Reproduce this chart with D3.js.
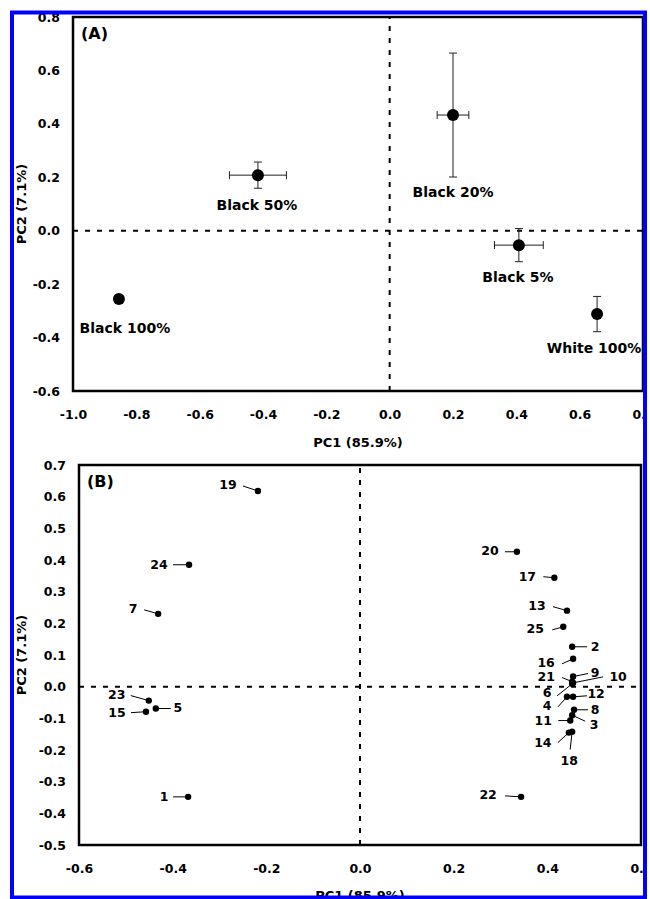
<!DOCTYPE html>
<html>
<head>
<meta charset="utf-8">
<script src="https://cdn.jsdelivr.net/npm/d3@7"></script>
<style>
  body { margin: 0; background: #fff; }
  svg text { font-family: "DejaVu Sans", sans-serif; font-weight: bold; fill: #000; }
  .tick text { font-size: 12.5px; }
  .pt-label { font-size: 12.5px; }
  .grp-label { font-size: 14px; }
  .ax-title { font-size: 13px; }
  .panel-tag { font-size: 16px; }
</style>
</head>
<body>
<svg id="chart" width="650" height="899"></svg>
<script>
// ---- panel A: group means with error bars
const groupsA = ["Black 100%", "Black 50%", "Black 20%", "Black 5%", "White 100%"];
const pc1A = [-0.855, -0.416, 0.200, 0.408, 0.655];
const pc2A = [-0.256, 0.208, 0.433, -0.054, -0.312];
const pc1ErrA = [0.012, 0.090, 0.050, 0.077, 0.004];
const pc2ErrA = [0.008, 0.049, 0.232, 0.062, 0.066];
const xTicksA = [-1.0, -0.8, -0.6, -0.4, -0.2, 0.0, 0.2, 0.4, 0.6, 0.8];
const yTicksA = [-0.6, -0.4, -0.2, 0.0, 0.2, 0.4, 0.6, 0.8];

// ---- panel B: individual samples
const samplesB = ["1", "2", "3", "4", "5", "6", "7", "8", "9", "10", "11", "12", "13",
  "14", "15", "16", "17", "18", "19", "20", "21", "22", "23", "24", "25"];
const pc1B = [-0.367, 0.453, 0.453, 0.442, -0.436, 0.453, -0.431, 0.457, 0.455, 0.455, 0.449, 0.455, 0.442,
  0.446, -0.457, 0.455, 0.415, 0.453, -0.218, 0.335, 0.453, 0.344, -0.451, -0.365, 0.434];
const pc2B = [-0.348, 0.126, -0.090, -0.032, -0.069, 0.009, 0.230, -0.073, 0.032, 0.012, -0.107, -0.032, 0.240,
  -0.145, -0.079, 0.088, 0.344, -0.142, 0.618, 0.426, 0.016, -0.348, -0.044, 0.385, 0.189];
const xTicksB = [-0.6, -0.4, -0.2, 0.0, 0.2, 0.4, 0.6];
const yTicksB = [-0.5, -0.4, -0.3, -0.2, -0.1, 0.0, 0.1, 0.2, 0.3, 0.4, 0.5, 0.6, 0.7];

// label placement (pixel offsets from the marker)
const labelOffA = [[6, 34], [-1, 35], [0, 82], [-1, 37], [-3, 39]];
const labelOffB = [[-24, 0], [23, 0], [22, 9], [-20, 9], [22, -1], [-25, 9], [-25, -5], [21, 0], [22, -4],
  [45, -6], [-27, 0], [23, -3], [-30, -5], [-26, 10], [-29, 1], [-27, 4], [-27, -1], [-3, 29], [-30, -6],
  [-27, -1], [-26, -5], [-33, -2], [-32, -6], [-30, 0], [-28, 2]];
const leaderOffB = [[-15, 0], [15, 0], [13, 6], [-9, 10], [15, 0], [-15, 12], [-14, -4], [14, 0], [15, -3],
  [30, -6], [-12, 0], [14, -1], [-14, -4], [-11, 10], [-15, 1], [-11, 5], [-11, -1], [-2, 18], [-15, -5],
  [-12, 0], [-10, -4], [-16, -1], [-18, -5], [-16, 0], [-11, 3]];

const svg = d3.select("#chart");
svg.append("rect").attr("width", 650).attr("height", 899).attr("fill", "#fff");

svg.append("clipPath").attr("id", "inner")
  .append("rect").attr("x", 12).attr("y", 12).attr("width", 633).attr("height", 885);

const root = svg.append("g").attr("clip-path", "url(#inner)");
const fmt = d => d.toFixed(1);

function drawFrame(x, y, xTicks, yTicks, tag, titleY) {
  const [x0, x1] = x.range();
  const [y0, y1] = y.range();

  root.append("g")
    .attr("transform", `translate(0,${y0})`)
    .call(d3.axisBottom(x).tickValues(xTicks).tickFormat(fmt).tickSize(0).tickPadding(19))
    .call(g => g.select(".domain").remove())
    .attr("font-size", null).attr("font-family", null);

  root.append("g")
    .attr("transform", `translate(${x0},0)`)
    .call(d3.axisLeft(y).tickValues(yTicks).tickFormat(fmt).tickSize(0).tickPadding(13))
    .call(g => g.select(".domain").remove())
    .attr("font-size", null).attr("font-family", null);

  // zero lines
  root.append("line")
    .attr("x1", x(0)).attr("x2", x(0)).attr("y1", y0).attr("y2", y1)
    .attr("stroke", "#000").attr("stroke-width", 2).attr("stroke-dasharray", "5,7");
  root.append("line")
    .attr("x1", x0).attr("x2", x1).attr("y1", y(0)).attr("y2", y(0))
    .attr("stroke", "#000").attr("stroke-width", 2).attr("stroke-dasharray", "5,7");

  root.append("rect")
    .attr("x", x0).attr("y", y1).attr("width", x1 - x0).attr("height", y0 - y1)
    .attr("fill", "none").attr("stroke", "#000").attr("stroke-width", 2.5);

  root.append("text").attr("class", "panel-tag")
    .attr("x", x0 + 8).attr("y", y1 + 22).text(tag);

  root.append("text").attr("class", "ax-title")
    .attr("x", (x0 + x1) / 2).attr("y", titleY)
    .attr("text-anchor", "middle").text("PC1 (85.9%)");

  root.append("text").attr("class", "ax-title")
    .attr("transform", `translate(26,${(y0 + y1) / 2}) rotate(-90)`)
    .attr("text-anchor", "middle").text("PC2 (7.1%)");
}

// ---- panel A
const xA = d3.scaleLinear().domain([-1.0, 0.8]).range([73, 643]);
const yA = d3.scaleLinear().domain([-0.6, 0.8]).range([391, 17]);
drawFrame(xA, yA, xTicksA, yTicksA, "(A)", 447);

const dataA = groupsA.map((g, i) => ({
  g, x: pc1A[i], y: pc2A[i], ex: pc1ErrA[i], ey: pc2ErrA[i], off: labelOffA[i]
}));

const errA = root.append("g").attr("stroke", "#222").attr("stroke-width", 1);
const cap = 4;
dataA.forEach(d => {
  const cx = xA(d.x), cy = yA(d.y);
  const xl = xA(d.x - d.ex), xr = xA(d.x + d.ex);
  const yt = yA(d.y + d.ey), yb = yA(d.y - d.ey);
  errA.append("line").attr("x1", xl).attr("x2", xr).attr("y1", cy).attr("y2", cy);
  errA.append("line").attr("x1", xl).attr("x2", xl).attr("y1", cy - cap).attr("y2", cy + cap);
  errA.append("line").attr("x1", xr).attr("x2", xr).attr("y1", cy - cap).attr("y2", cy + cap);
  errA.append("line").attr("x1", cx).attr("x2", cx).attr("y1", yt).attr("y2", yb);
  errA.append("line").attr("x1", cx - cap).attr("x2", cx + cap).attr("y1", yt).attr("y2", yt);
  errA.append("line").attr("x1", cx - cap).attr("x2", cx + cap).attr("y1", yb).attr("y2", yb);
});

root.selectAll(".dotA")
  .data(dataA)
  .enter()
  .append("circle")
  .attr("class", "dotA")
  .attr("cx", d => xA(d.x))
  .attr("cy", d => yA(d.y))
  .attr("r", 6)
  .attr("fill", "#000");

root.selectAll(".grp-label")
  .data(dataA)
  .enter()
  .append("text")
  .attr("class", "grp-label")
  .attr("x", d => xA(d.x) + d.off[0])
  .attr("y", d => yA(d.y) + d.off[1])
  .attr("text-anchor", "middle")
  .text(d => d.g);

// ---- panel B
const xB = d3.scaleLinear().domain([-0.6, 0.6]).range([79, 641]);
const yB = d3.scaleLinear().domain([-0.5, 0.7]).range([845, 465]);
drawFrame(xB, yB, xTicksB, yTicksB, "(B)", 900);

const dataB = samplesB.map((s, i) => ({
  s, x: pc1B[i], y: pc2B[i], off: labelOffB[i], lead: leaderOffB[i]
}));

root.selectAll(".leader")
  .data(dataB)
  .enter()
  .append("line")
  .attr("class", "leader")
  .attr("x1", d => xB(d.x) + d.lead[0])
  .attr("y1", d => yB(d.y) + d.lead[1])
  .attr("x2", d => xB(d.x))
  .attr("y2", d => yB(d.y))
  .attr("stroke", "#000")
  .attr("stroke-width", 1);

root.selectAll(".dotB")
  .data(dataB)
  .enter()
  .append("circle")
  .attr("class", "dotB")
  .attr("cx", d => xB(d.x))
  .attr("cy", d => yB(d.y))
  .attr("r", 3.2)
  .attr("fill", "#000");

root.selectAll(".pt-label")
  .data(dataB)
  .enter()
  .append("text")
  .attr("class", "pt-label")
  .attr("x", d => xB(d.x) + d.off[0])
  .attr("y", d => yB(d.y) + d.off[1])
  .attr("dy", "0.36em")
  .attr("text-anchor", "middle")
  .text(d => d.s);

// blue outer border
svg.append("rect")
  .attr("x", 12).attr("y", 12.5).attr("width", 633).attr("height", 885)
  .attr("fill", "none").attr("stroke", "#0000ff").attr("stroke-width", 4);
</script>
</body>
</html>
